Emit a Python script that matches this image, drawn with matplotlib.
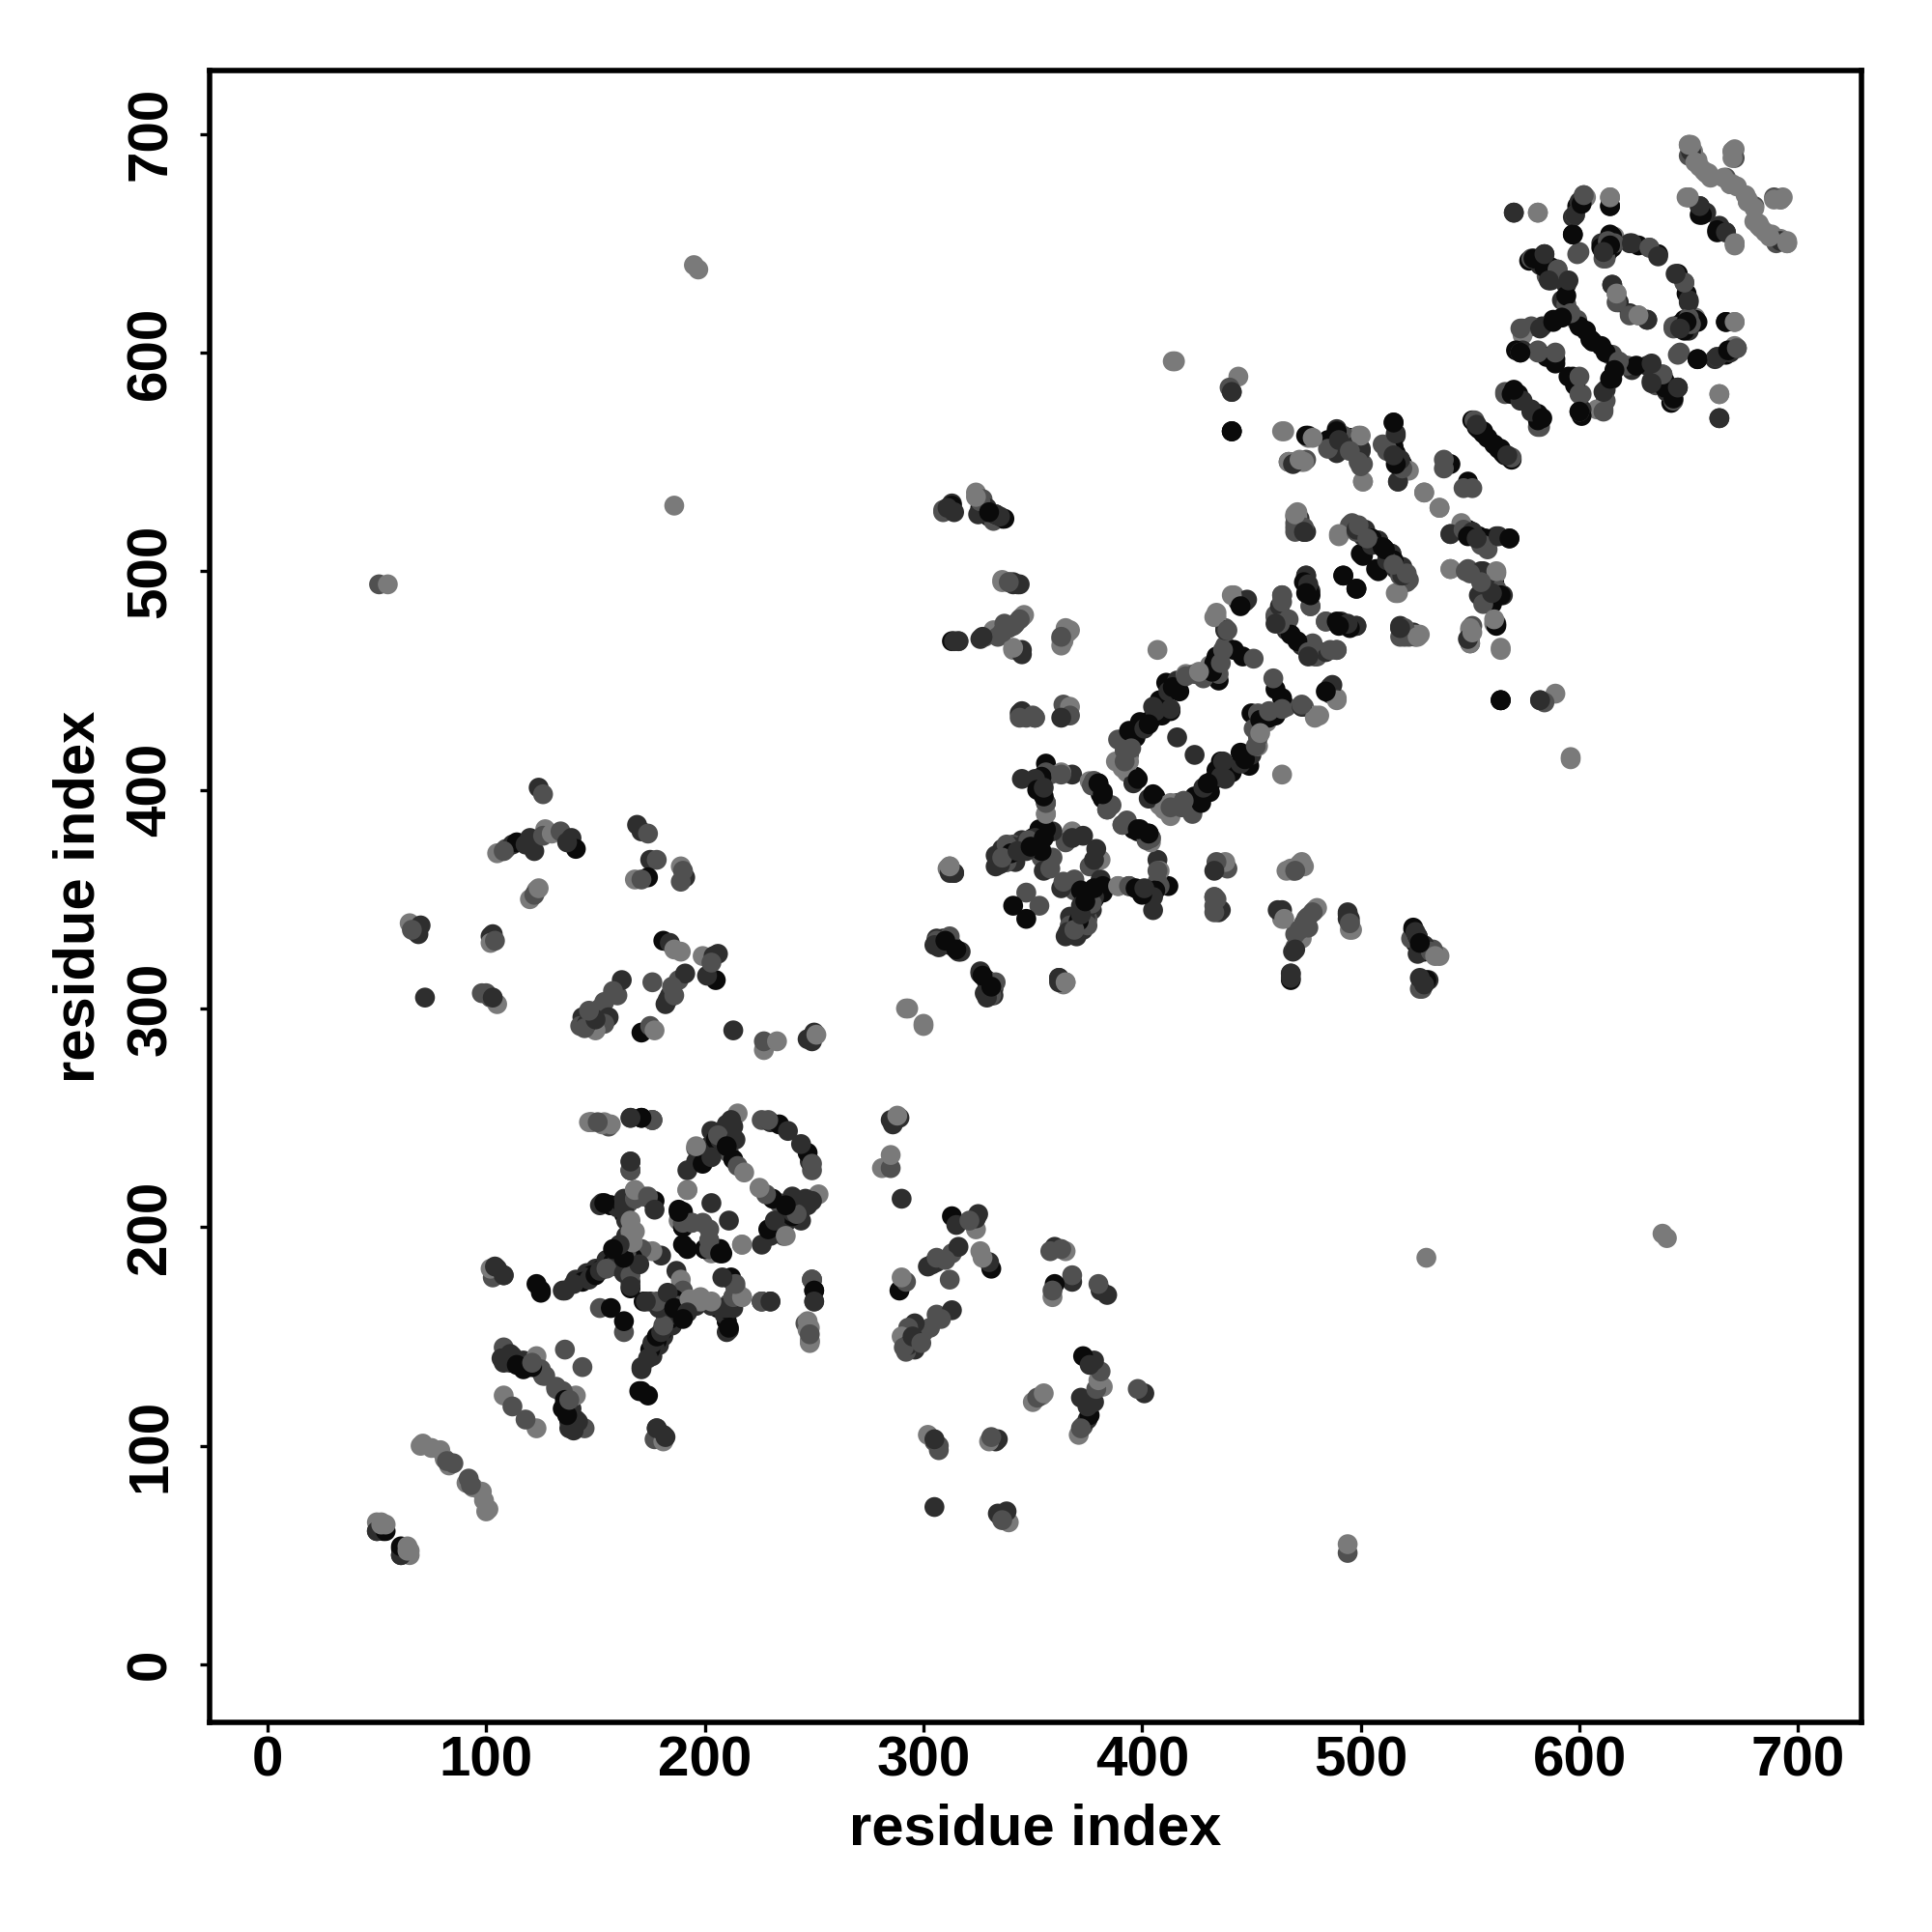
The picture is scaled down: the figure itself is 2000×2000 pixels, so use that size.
import matplotlib
matplotlib.use("Agg")
import matplotlib.pyplot as plt

# contacts as (residue a, residue b, shade class), a < b; map is symmetric
near_50_100 = [
    (50,65,3),(52,65,3),(50,61,1),(53,61,0),(51,64,3),(61,50,1),(61,54,0),(52,64,3),(54,64,3),
    (70,100,3),(71,101,3),(75,99,3),(79,98,3),(81,94,3),(83,91,3),(85,92,2),(82,93,2),
]
near_100_145 = [
    (108,123,3),(112,118,2),(108,145,2),(107,140,1),(111,142,1),(113,139,1),(117,139,1),(119,136,0),
    (123,141,3),(125,134,2),(127,132,2),(136,144,2),(126,132,2),(125,135,2),(121,136,0),(117,135,0),
    (111,138,1),(112,141,1),(108,138,1),(114,137,0),(121,138,2),
]
cross_100_180 = [
    (108,178,1),(105,181,1),(103,177,2),(102,181,3),(104,182,1),(108,178,1),
    (123,174,0),(125,171,0),(135,171,1),(141,176,1),(146,179,1),(150,181,1),(157,182,1),(163,187,1),
    (144,176,1),(148,178,0),(153,181,0),(155,185,1),(158,184,0),(160,186,1),(161,188,1),(145,177,1),
    (144,175,0),(140,174,1),(136,171,1),(125,170,0),(147,176,1),(150,178,0),(152,180,1),(155,181,2),
]
center_150_220 = [
    (166,192,0),(166,193,1),(176,212,0),(172,214,2),(168,217,3),(164,212,1),(152,210,1),(157,210,1),
    (163,206,0),(166,199,2),(173,189,3),(180,187,1),(176,189,3),(171,190,2),(166,175,1),(165,180,1),
    (166,172,0),(152,163,2),(157,163,0),(164,203,1),(163,208,1),(168,213,2),(153,211,1),(157,210,0),
    (166,226,2),(166,230,1),(148,248,3),(154,248,3),(156,246,2),(166,250,2),(171,250,0),(176,249,2),
    (163,190,0),(164,196,1),(160,209,1),(162,211,0),(165,211,2),(168,188,2),(179,163,1),(186,163,0),
    (164,193,2),(167,186,0),(164,188,2),(166,178,2),(170,183,1),(186,163,0),(167,193,3),(166,198,3),
    (161,192,1),(158,190,0),(173,166,1),
]
ring_190_250 = [
    (192,217,3),(192,226,1),(196,236,2),(198,233,0),(196,230,1),(203,244,1),(202,237,1),(210,247,1),
    (215,252,3),(212,249,1),(200,234,1),(205,240,0),(208,244,1),(211,234,2),(213,231,0),(215,228,2),
    (218,225,3),(199,229,0),(203,232,1),(196,237,3),(210,243,1),(213,246,1),(207,240,1),(206,242,2),
    (226,249,2),(230,248,1),(234,247,0),(238,244,1),(229,249,2),
    (203,211,1),(188,208,0),(190,200,0),(188,203,3),(194,202,2),(190,202,2),(190,207,0),(190,192,0),
    (199,202,2),(192,202,1),(163,208,1),(200,190,0),(202,194,2),(202,190,2),(188,207,0),(217,192,3),
    (214,240,1),(210,237,0),
]
bars_near_250 = [
    (166,226,2),(163,213,1),(163,210,1),(166,203,3),(168,198,3),(168,213,2),(168,217,3),(177,212,0),
    (174,214,2),(176,249,2),(177,208,1),(154,211,0),(226,166,2),(230,166,1),(176,249,2),
    (171,250,0),(166,250,1),(157,247,3),(153,247,3),(148,248,3),(147,248,3),(151,248,2),
]
far_singles = [
    (195,640,3),(197,638,3),(186,530,3),(51,494,2),(55,494,3),(72,305,1),
    (292,300,3),(300,293,3),(415,596,3),(441,582,2),(444,589,3),(441,564,1),(440,584,2),
    (564,441,0),(441,582,1),(564,441,0),(407,464,3),(596,414,3),
]
left_100_150 = [
    (67,337,1),(68,335,1),(65,339,3),(70,338,1),(69,334,1),(66,336,2),
    (102,333,1),(103,334,1),(102,330,3),(104,331,2),
    (98,307,2),(100,307,2),(102,305,2),(105,302,3),(103,305,1),
    (105,371,3),(109,373,2),(112,375,1),(114,376,0),(108,372,2),(120,378,1),(122,372,1),
    (118,375,1),(124,401,1),(126,398,2),(127,382,3),(126,379,2),(130,380,3),(134,381,2),
    (139,378,1),(141,373,0),(137,376,1),(120,350,3),(123,354,3),(122,352,2),(124,355,3),
]
left_170_200 = [
    (169,384,1),(171,381,1),(174,380,2),(175,368,1),(178,368,2),(174,360,0),(168,359,3),(171,359,2),
    (189,365,3),(191,360,1),(190,363,2),(189,358,2),
    (144,296,1),(143,292,2),(148,297,1),(152,300,2),(154,303,2),(160,306,2),(162,313,1),(156,296,1),
    (154,293,2),(150,290,3),(146,293,1),(145,291,2),(150,295,1),(147,299,2),(158,308,2),
    (171,289,0),(175,292,2),(177,290,3),(176,312,2),(181,331,0),(184,330,1),(186,327,3),(189,326,3),
    (184,306,1),(182,302,1),(183,304,1),(188,313,2),(191,316,1),(185,310,2),(186,306,2),
    (199,324,3),(204,324,1),(206,325,1),(205,313,0),(201,315,1),(203,321,2),
    (213,290,1),(227,281,3),(227,285,2),(233,285,3),(247,286,1),(250,289,1),(249,285,1),(251,288,3),
]
mid_305_345 = [
    (306,332,1),(309,330,0),(312,329,1),(316,326,1),(317,326,1),(313,329,1),(309,332,1),(312,333,2),
    (306,331,2),(305,329,1),(307,328,1),(310,331,0),(315,327,0),(311,364,3),(312,362,1),
    (313,531,1),(309,528,2),(312,529,1),(324,536,3),(326,529,0),(330,525,0),(336,524,0),(332,523,2),
    (327,533,2),(325,526,1),(333,526,0),(328,527,1),
    (339,495,2),(343,494,1),(336,495,3),(341,495,1),(345,479,3),(342,476,2),(336,472,1),(326,469,1),
    (328,470,2),(332,473,3),(334,470,2),(316,468,2),(313,468,0),(341,464,3),(345,462,1),
    (345,435,3),(351,433,2),(347,433,2),(314,362,1),(312,365,3),(362,314,1),(365,312,3),
]
mid_345_412 = [
    (363,469,3),(367,473,3),(363,466,3),(364,439,2),(367,438,3),
    (356,412,0),(356,408,2),(345,405,1),(368,407,1),(363,408,3),(353,403,0),(356,394,1),(356,389,3),
    (358,407,2),(354,406,0),
    (376,404,3),(380,401,0),(382,396,0),(386,393,2),(384,391,2),(382,399,0),(380,403,0),(378,404,2),
    (381,398,0),(377,402,2),
    (368,381,3),(373,379,1),(365,376,2),(368,378,1),(345,377,1),(341,375,2),(336,373,1),(333,370,1),
    (333,365,1),(338,367,2),(342,367,1),(351,376,0),(353,382,0),(359,381,1),(350,378,0),(354,369,2),
    (359,369,2),(355,363,1),(358,364,2),(354,372,0),(356,382,0),(351,378,1),(346,375,1),(341,374,1),
    (338,367,2),(337,371,1),(335,366,1),(338,375,2),(347,353,2),(341,347,0),(348,377,2),(355,378,0),
    (340,371,0),(336,369,2),(343,372,1),(347,372,1),(349,374,0),
    (356,389,3),(356,394,2),(355,397,0),(353,404,0),(351,405,1),(363,407,2),(352,400,0),(355,401,1),
]
ring_390_490 = [
    (389,423,2),(388,413,3),(394,427,0),(399,431,0),(404,432,0),(408,441,0),(413,436,0),(411,449,0),
    (416,450,1),(420,453,3),(424,453,2),(431,457,3),(434,461,0),(438,466,2),(442,464,0),(446,461,0),
    (451,460,2),(435,450,0),(435,453,2),(438,474,2),(434,479,3),(446,486,1),(442,489,3),(444,486,1),
    (416,424,1),(397,406,0),(394,416,2),(393,408,3),(396,403,1),(391,410,3),(392,418,2),(397,424,0),
    (401,428,1),(405,438,1),(409,434,0),(406,436,1),(412,445,1),(417,445,0),(414,447,0),(428,451,2),
    (432,454,0),(433,458,0),(436,458,2),(448,487,1),(437,464,2),
    (413,394,3),(398,405,0),
    (391,384,2),(382,398,0),(378,404,2),(380,403,0),
    (392,413,2),(395,419,2),
    (447,486,1),(438,473,1),(441,489,3),(433,479,3),(439,473,2),(434,481,3),(445,484,0),
    (420,452,2),(426,454,3),(413,437,1),(403,430,0),
]
band_340_470 = [
    (468,364,3),(472,366,3),(474,365,3),(470,363,2),(464,345,1),(465,341,3),(470,327,1),(468,316,1),
    (468,314,1),(472,336,2),(475,341,2),(480,346,3),(474,339,2),(478,344,2),(476,337,2),
    (494,344,1),(494,341,1),(496,336,3),(495,339,2),
    (524,337,0),(526,333,1),(529,329,1),(532,326,2),(534,324,3),(530,313,0),(527,309,2),(525,335,1),
    (527,330,0),(529,311,1),(527,314,1),
    (434,367,2),(433,351,2),(436,345,1),(433,363,1),(435,344,1),(434,350,2),
    (433,344,2),
]
band_460_530 = [
    (470,550,3),(467,550,2),(473,550,3),(470,525,2),(472,524,1),(474,518,1),(470,520,2),(471,523,0),
    (490,516,3),(495,521,2),(502,516,1),(508,514,1),(500,508,0),(514,508,1),(507,501,0),(492,498,0),
    (498,492,0),(516,501,1),(522,496,2),(517,490,3),(502,519,1),(505,515,0),(498,518,2),
    (512,505,1),(510,511,0),(519,498,1),(515,503,2),(521,499,2),
    (475,498,1),(477,491,1),(477,484,2),(464,489,2),(461,480,2),(466,474,2),(473,466,1),(479,461,2),
    (489,464,2),(484,477,2),(492,476,0),(498,475,1),(518,475,1),(525,471,3),(518,470,2),(522,470,2),
    (474,495,0),(463,484,1),(467,478,2),(471,468,0),(476,463,2),(489,477,0),(494,476,1),(475,490,0),
    (527,471,3),(520,474,2),(464,486,2),(461,476,1),
]
band_465_575 = [
    (464,564,3),(467,550,3),(475,551,2),(476,562,1),(485,559,1),(489,565,1),(488,557,0),(476,561,3),
    (495,561,0),(499,562,3),(500,556,1),(501,549,2),(501,541,3),(492,562,2),(497,557,1),
    (515,568,1),(516,562,1),(510,558,2),(516,554,0),(520,547,3),(517,541,2),(515,557,0),(512,556,2),
    (518,551,1),(519,549,0),(522,546,3),
    (529,536,3),(536,529,3),(540,549,0),(549,541,0),(538,551,2),(547,538,2),
    (551,569,0),(556,564,0),(563,556,0),(569,552,2),(553,566,0),(558,561,0),(565,554,0),(567,553,1),
    (566,582,2),(572,580,1),(581,572,0),(581,566,2),(569,581,0),(578,573,1),(574,578,1),(583,570,0),
    (541,517,1),(547,519,2),(551,518,1),(555,512,2),(563,516,1),(568,515,0),(549,516,0),(553,515,1),
    (541,501,3),(548,500,2),(555,500,1),(562,500,3),(554,489,1),(564,489,0),(560,485,0),(556,485,2),
    (562,475,0),(561,478,3),(564,465,3),(550,474,3),(549,469,1),(526,470,3),(518,474,1),(551,472,3),
    (560,490,1),(555,495,2),(550,499,2),
]
ring_570_640 = [
    (570,664,1),(581,664,3),(597,654,0),(600,646,2),(602,672,2),(599,667,0),(597,662,1),(614,671,3),
    (614,667,0),(616,653,3),(611,646,0),(614,654,0),(611,643,2),(623,650,1),(632,648,2),(636,645,0),
    (627,649,0),(615,631,1),(617,627,3),(618,623,1),(617,623,2),(615,631,1),(617,627,3),
    (577,642,0),(584,645,0),(582,640,1),(590,638,2),(585,635,2),(591,634,0),(594,631,1),(592,624,1),
    (595,619,0),(599,615,2),(603,610,0),(588,615,0),(583,612,1),(578,612,2),(574,611,2),(574,608,3),
    (574,601,1),(571,601,0),(581,601,2),(585,598,0),(589,597,0),(589,595,0),(589,600,2),(581,600,2),
    (573,600,2),(573,600,0),(573,611,2),(582,611,1),(588,614,0),(599,614,2),(595,617,0),(594,622,2),
    (594,626,0),(587,633,1),(584,639,0),(578,643,2),(579,643,0),(587,639,0),(590,638,2),(586,633,1),
    (600,669,1),(603,671,3),(598,663,2),(612,649,1),(613,651,2),(615,648,0),(610,650,1),(606,605,0),
    (600,612,0),(596,618,2),(592,616,0),
    (584,645,1),(595,633,1),
]
ring_600_700 = [
    (613,646,0),(615,653,0),(612,643,2),(616,650,2),(614,667,0),(614,671,3),(597,654,0),(599,645,2),
    (598,663,1),(601,668,0),(602,672,2),(581,664,3),(570,664,1),(624,650,1),(632,648,2),(636,644,1),
    (610,648,0),(613,651,2),(614,649,0),(611,646,1),
    (650,695,3),(652,691,3),(657,683,3),(651,692,2),(654,688,3),(655,685,3),(671,693,3),(671,689,2),
    (667,680,2),(670,677,3),(669,677,3),(666,680,3),(670,692,3),(672,676,3),(660,680,3),(659,682,3),
    (649,671,3),(656,665,0),(655,663,0),(656,664,0),(655,667,1),(658,664,1),(650,671,3),(652,692,3),
    (650,690,2),(692,670,3),(689,670,3),(692,651,1),(651,695,3),(687,653,3),(682,658,3),
    (663,656,0),(667,655,1),(671,650,3),(695,650,3),(677,669,3),
]

shade_grey = ["#0a0a0a", "#2e2e2e", "#505050", "#7a7a7a"]

clusters = [near_50_100, near_100_145, cross_100_180, center_150_220, ring_190_250, bars_near_250,
            far_singles, left_100_150, left_170_200, mid_305_345, mid_345_412, ring_390_490,
            band_340_470, band_460_530, band_465_575, ring_570_640, ring_600_700]

xs, ys, cols = [], [], []
for cluster in clusters:
    for a, b, s in cluster:
        xs += [a, b]
        ys += [b, a]
        cols += [shade_grey[s], shade_grey[s]]

plt.rcParams["font.family"] = ["Liberation Sans", "DejaVu Sans"]
plt.rcParams["font.weight"] = "bold"

fig = plt.figure(figsize=(20, 20), dpi=100)
ax = fig.add_axes([217 / 2000, 1 - 1783 / 2000, 1710 / 2000, 1710 / 2000])
ax.scatter(xs, ys, s=220, c=cols, linewidths=0, zorder=3)
ax.set_xlim(-26.5, 729)
ax.set_ylim(-26.5, 729)

ticks = [0, 100, 200, 300, 400, 500, 600, 700]
ax.set_xticks(ticks)
ax.set_yticks(ticks)
ax.tick_params(axis="both", length=7, width=2.4, labelsize=42)
ax.tick_params(axis="x", pad=3)
ax.tick_params(axis="y", pad=17)
for lab in ax.get_yticklabels():
    lab.set_rotation(90)
    lab.set_va("center")
for sp in ax.spines.values():
    sp.set_linewidth(4)

ax.set_xlabel("residue index", fontsize=43, fontweight="bold")
ax.set_ylabel("residue index", fontsize=43, fontweight="bold")
ax.xaxis.set_label_coords(0.5, -0.049)
ax.yaxis.set_label_coords(-0.063, 0.5)

fig.savefig("out.png", dpi=100)
